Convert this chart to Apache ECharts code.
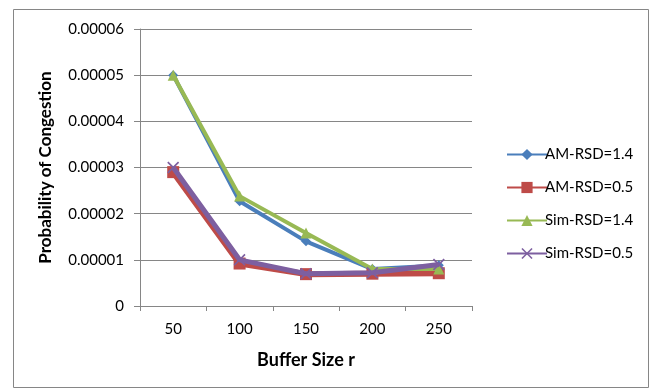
<!DOCTYPE html>
<html><head><meta charset="utf-8">
<script src="https://cdn.jsdelivr.net/npm/echarts@6/dist/echarts.min.js"></script>
<style>html,body{margin:0;padding:0;background:#fff}#c{width:653px;height:392px}</style>
</head><body><div id="c"></div>
<script>
const categories = ['50','100','150','200','250'];
const amRsd14 = [0.000050, 0.0000227, 0.0000140, 0.0000080, 0.0000088];
const amRsd05 = [0.000029, 0.0000092, 0.0000069, 0.0000070, 0.0000071];
const simRsd14 = [0.000050, 0.0000238, 0.0000158, 0.0000080, 0.0000080];
const simRsd05 = [0.000030, 0.0000100, 0.0000070, 0.0000072, 0.0000090];
const seriesNames = ['AM-RSD=1.4','AM-RSD=0.5','Sim-RSD=1.4','Sim-RSD=0.5'];
const yMax = 0.00006, yStep = 0.00001;

const FONT = 'Lato, "Open Sans", sans-serif';
const xPath = 'path://M0,1 L1,0 L5,4 L9,0 L10,1 L6,5 L10,9 L9,10 L5,6 L1,10 L0,9 L4,5 Z';
const colors = ['#4A7EBB','#BE4B48','#98B954','#7D5FA0'];
const symbols = ['diamond','rect','triangle',xPath];
const sizes = [10,12,11,12];
const widths = [4,6,4,5];
const datas = [amRsd14, amRsd05, simRsd14, simRsd05];

const chart = echarts.init(document.getElementById('c'), null, {renderer:'canvas'});
chart.setOption({
  backgroundColor:'#fff',
  animation:false,
  graphic:[{type:'rect', shape:{x:13.5,y:9.5,width:635,height:378}, style:{fill:'none', stroke:'#868686', lineWidth:1}, silent:true}],
  grid:{left:140, right:181, top:29, bottom:86},
  legend:{
    orient:'vertical', left:501, top:142, itemGap:18, itemWidth:40, itemHeight:14,
    textStyle:{fontFamily:FONT, fontSize:15, color:'#000', padding:[0,0,0,-7]},
    data:seriesNames
  },
  xAxis:{
    type:'category', data:categories, boundaryGap:true,
    name:'Buffer Size r', nameLocation:'middle', nameGap:45,
    nameTextStyle:{fontFamily:FONT, fontSize:18, fontWeight:'bold', color:'#000'},
    axisLine:{lineStyle:{color:'#868686', width:1}},
    axisTick:{show:true, alignWithLabel:false, length:5, lineStyle:{color:'#868686'}},
    axisLabel:{fontFamily:FONT, fontSize:15, color:'#000', margin:16},
    splitLine:{show:false}
  },
  yAxis:{
    type:'value', min:0, max:yMax, interval:yStep,
    name:'Probability of Congestion', nameLocation:'middle', nameGap:86,
    nameTextStyle:{fontFamily:FONT, fontSize:17, fontWeight:'bold', color:'#000'},
    axisLine:{show:true, lineStyle:{color:'#868686', width:1}},
    axisTick:{show:true, length:6, lineStyle:{color:'#868686'}},
    axisLabel:{fontFamily:FONT, fontSize:15, color:'#000', margin:16,
      formatter:v => v===0 ? '0' : v.toFixed(5)},
    splitLine:{show:true, lineStyle:{color:'#868686', width:1}}
  },
  series: datas.map((d,i)=>({
    name:seriesNames[i], type:'line', data:d,
    symbol:symbols[i], symbolSize:sizes[i], showSymbol:true,
    lineStyle:{color:colors[i], width:widths[i]},
    itemStyle:{color:colors[i], borderWidth:0},
    z:2+i
  }))
});
</script></body></html>
